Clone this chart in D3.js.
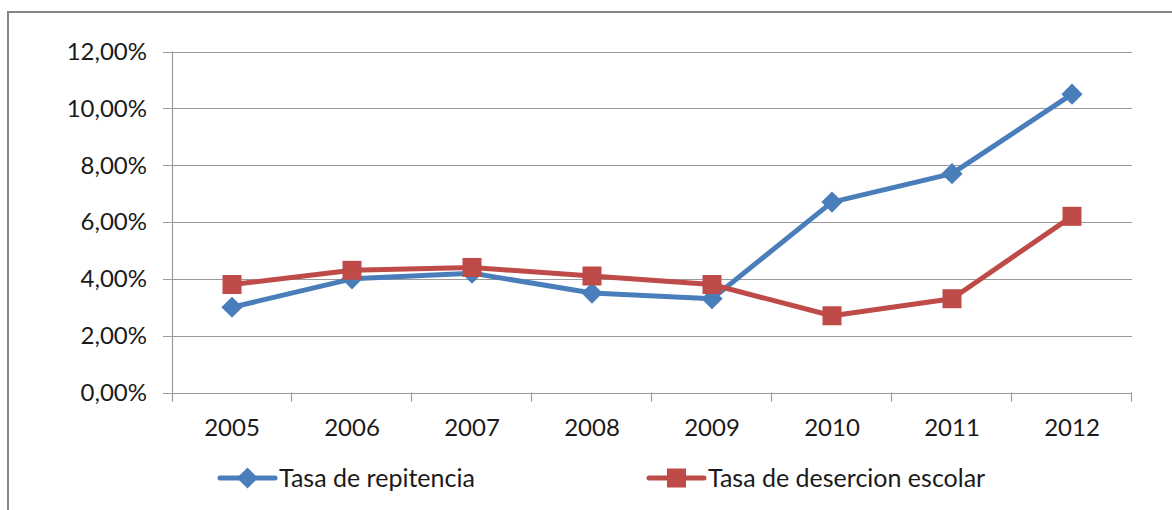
<!DOCTYPE html>
<html><head><meta charset="utf-8">
<script src="https://cdn.jsdelivr.net/npm/d3@7"></script>
<style>body{margin:0;background:#fff}svg{display:block}</style>
</head><body>
<script>
const years = ["2005","2006","2007","2008","2009","2010","2011","2012"];
const repitencia = [3.0, 4.0, 4.2, 3.5, 3.3, 6.7, 7.7, 10.5];
const desercion = [3.8, 4.3, 4.4, 4.1, 3.8, 2.7, 3.3, 6.2];
const yTicks = [0, 2, 4, 6, 8, 10, 12];
const seriesNames = ["Tasa de repitencia", "Tasa de desercion escolar"];
const colors = ["#4A7EBB", "#BE4B48"];

const W = 1172, H = 510;
const svg = d3.select("body").append("svg").attr("width", W).attr("height", H);
const font = "Lato, 'Open Sans', sans-serif";
const fs = 24;

// outer border
svg.append("rect").attr("x", 8).attr("y", 12).attr("width", 1200).attr("height", 600)
  .attr("fill", "none").attr("stroke", "#868686").attr("stroke-width", 2);

const x0 = 172, x1 = 1132, yTop = 51.5, yBot = 392.5;
const x = d3.scaleBand().domain(years).range([x0, x1]);
const y = d3.scaleLinear().domain([0, 12]).range([yBot, yTop]);

// gridlines
svg.append("g").selectAll("line").data(yTicks).join("line")
  .attr("x1", x0 - 9).attr("x2", x1).attr("y1", d => Math.round(y(d)) + 0.5).attr("y2", d => Math.round(y(d)) + 0.5)
  .attr("stroke", "#9a9a9a").attr("stroke-width", 1.2);

// y axis line
svg.append("line").attr("x1", x0 + 0.5).attr("x2", x0 + 0.5).attr("y1", yTop).attr("y2", yBot + 9)
  .attr("stroke", "#9a9a9a").attr("stroke-width", 1.2);

// x tick marks at band boundaries
const bounds = years.map(d => x(d)).concat([x1]);
svg.append("g").selectAll("line").data(bounds.slice(1)).join("line")
  .attr("x1", d => Math.round(d) - 0.5).attr("x2", d => Math.round(d) - 0.5)
  .attr("y1", yBot).attr("y2", yBot + 9)
  .attr("stroke", "#9a9a9a").attr("stroke-width", 1.2);

// y labels
svg.append("g").selectAll("text").data(yTicks).join("text")
  .attr("x", 147).attr("y", d => y(d)).attr("dy", "0.35em")
  .attr("text-anchor", "end").attr("font-family", font).attr("font-size", fs).attr("fill", "#1a1a1a")
  .text(d => d.toFixed(2).replace(".", ",") + "%");

// x labels
svg.append("g").selectAll("text").data(years).join("text")
  .attr("x", d => x(d) + x.bandwidth() / 2).attr("y", 428).attr("dy", "0.35em")
  .attr("text-anchor", "middle").attr("font-family", font).attr("font-size", fs).attr("fill", "#1a1a1a")
  .text(d => d);

const line = d3.line().x((d, i) => x(years[i]) + x.bandwidth() / 2).y(d => y(d));
const diamond = (g, cx, cy, c) => g.append("rect").attr("x", -7.5).attr("y", -7.5).attr("width", 15).attr("height", 15)
  .attr("transform", `translate(${cx},${cy}) rotate(45)`).attr("fill", c);
const square = (g, cx, cy, c) => g.append("rect").attr("x", cx - 9.5).attr("y", cy - 9.5).attr("width", 19).attr("height", 19).attr("fill", c);

const data = [repitencia, desercion];
const markers = [diamond, square];
data.forEach((vals, si) => {
  const g = svg.append("g");
  g.append("path").attr("d", line(vals)).attr("fill", "none").attr("stroke", colors[si])
    .attr("stroke-width", 5).attr("stroke-linejoin", "round").attr("stroke-linecap", "round");
  vals.forEach((v, i) => markers[si](g, x(years[i]) + x.bandwidth() / 2, y(v), colors[si]));
});

// legend
const legX = [220, 649];
seriesNames.forEach((name, si) => {
  const g = svg.append("g");
  const lx = legX[si], ly = 478;
  g.append("line").attr("x1", lx).attr("x2", lx + 55).attr("y1", ly).attr("y2", ly)
    .attr("stroke", colors[si]).attr("stroke-width", 5).attr("stroke-linecap", "round");
  markers[si](g, lx + 27.5, ly, colors[si]);
  g.append("text").attr("x", lx + 59).attr("y", ly).attr("dy", "0.35em")
    .attr("font-family", font).attr("font-size", 25).attr("fill", "#1a1a1a").text(name);
});
</script>
</body></html>
